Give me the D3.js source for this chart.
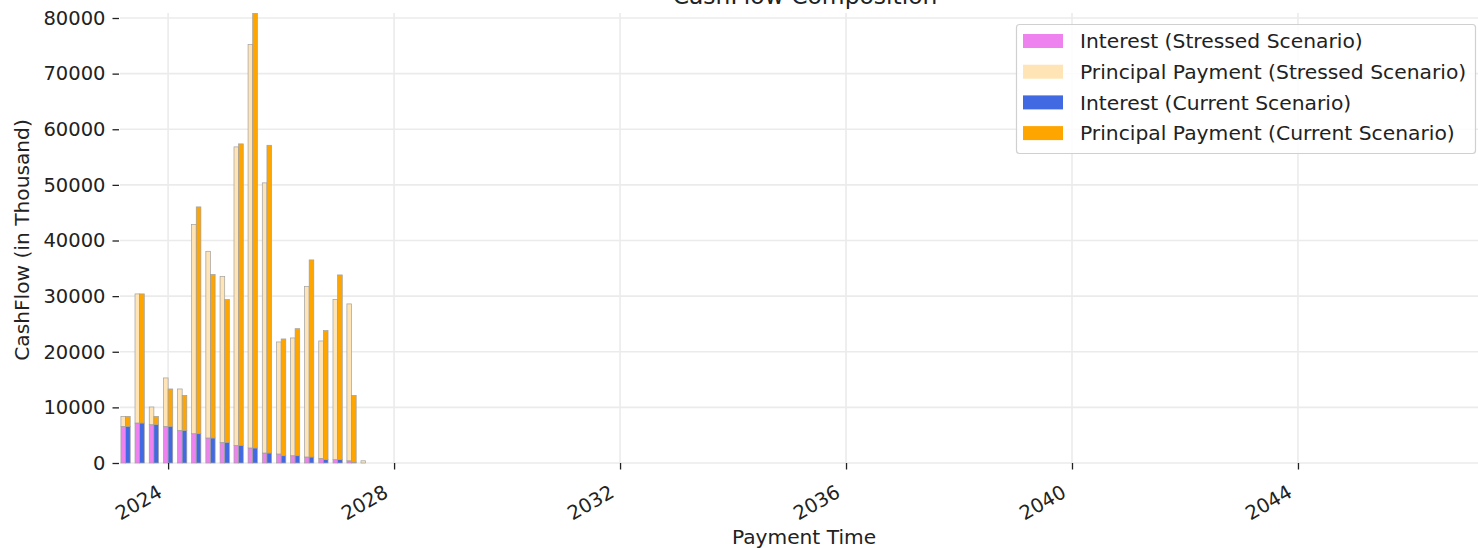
<!DOCTYPE html>
<html>
<head>
<meta charset="utf-8">
<script src="https://cdn.jsdelivr.net/npm/d3@7/dist/d3.min.js"></script>
<style>
  html, body { margin: 0; padding: 0; background: #fff; }
  svg { display: block; font-family: "DejaVu Sans", sans-serif; }
</style>
</head>
<body>
<svg id="chart" width="1478" height="548"></svg>
<script>
// ---- data (values in thousand) ----
const paymentDates = ["2023-04-01","2023-07-01","2023-10-01","2024-01-01","2024-04-01","2024-07-01",
  "2024-10-01","2025-01-01","2025-04-01","2025-07-01","2025-10-01","2026-01-01","2026-04-01",
  "2026-07-01","2026-10-01","2027-01-01","2027-04-01","2027-07-01"];
const stressedInterest  = [6580, 7190, 6890, 6580, 5860, 5270, 4500, 3710, 3170, 2700, 1800, 1620, 1310, 1080, 830, 600, 400, 0];
const stressedPrincipal = [1800, 23210, 3180, 8710, 7450, 37590, 33560, 29850, 53660, 72530, 48560, 20140, 21170, 30680, 21110, 28770, 28200, 400];
const currentInterest   = [6580, 7190, 6890, 6580, 5860, 5270, 4500, 3710, 3170, 2700, 1800, 1310, 1310, 1080, 600, 600, 150, 0];
const currentPrincipal  = [1800, 23210, 1490, 6730, 6300, 40770, 29370, 25660, 54200, 78300, 55320, 20990, 22840, 35430, 23200, 33210, 12010, 0];
const yTicks = [0, 10000, 20000, 30000, 40000, 50000, 60000, 70000, 80000];
const xTickYears = [2024, 2028, 2032, 2036, 2040, 2044];
const legendLabels = ["Interest (Stressed Scenario)", "Principal Payment (Stressed Scenario)",
  "Interest (Current Scenario)", "Principal Payment (Current Scenario)"];
const colors = { sInt: "violet", sPri: "moccasin", cInt: "royalblue", cPri: "orange" };

// ---- layout ----
const svg = d3.select("#chart");
const plotL = 120, plotR = 1478, plotT = 13, plotB = 463;
const parse = d3.timeParse("%Y-%m-%d");
const dates = paymentDates.map(parse);
const x = d3.scaleTime()
  .domain([new Date(2023, 1, 24), new Date(2047, 2, 10)])
  .range([plotL, plotR]);
const y = d3.scaleLinear().domain([0, 80900]).range([plotB, plotT]);
const halfDays = 30;
const shift = (d, days) => d3.timeDay.offset(d, days);

// clip
svg.append("defs").append("clipPath").attr("id", "plotclip")
  .append("rect").attr("x", plotL - 2).attr("y", plotT).attr("width", plotR - plotL + 2).attr("height", plotB - plotT + 1);

// grid
const grid = svg.append("g");
grid.selectAll("line.gy").data(yTicks).join("line")
  .attr("x1", plotL).attr("x2", plotR)
  .attr("y1", d => y(d)).attr("y2", d => y(d))
  .attr("stroke", "#ebebeb").attr("stroke-width", 1.6);
grid.selectAll("line.gx").data(xTickYears).join("line")
  .attr("x1", d => x(new Date(d, 0, 1))).attr("x2", d => x(new Date(d, 0, 1)))
  .attr("y1", plotT).attr("y2", plotB)
  .attr("stroke", "#ebebeb").attr("stroke-width", 1.6);

// bars
const bars = svg.append("g").attr("clip-path", "url(#plotclip)");
const idx = d3.range(dates.length);
function drawSeries(baseVals, vals, x0f, x1f, color) {
  const base = i => (baseVals ? baseVals[i] : 0);
  bars.append("g").selectAll("rect").data(idx).join("rect")
    .attr("x", i => x(x0f(dates[i])))
    .attr("width", i => x(x1f(dates[i])) - x(x0f(dates[i])))
    .attr("y", i => y(base(i) + vals[i]))
    .attr("height", i => y(base(i)) - y(base(i) + vals[i]))
    .attr("fill", color)
    .attr("stroke", i => vals[i] > 0 ? "#a0a0a0" : "none")
    .attr("stroke-width", 0.7);
}
drawSeries(null, stressedInterest, d => shift(d, -halfDays), d => d, colors.sInt);
drawSeries(stressedInterest, stressedPrincipal, d => shift(d, -halfDays), d => d, colors.sPri);
drawSeries(null, currentInterest, d => d, d => shift(d, halfDays), colors.cInt);
drawSeries(currentInterest, currentPrincipal, d => d, d => shift(d, halfDays), colors.cPri);

// y axis
const yAxis = d3.axisLeft(y).tickValues(yTicks).tickSize(6.5).tickPadding(7).tickFormat(d3.format("d"));
const gy = svg.append("g").attr("transform", `translate(${plotL - 1},0)`).call(yAxis);
gy.select(".domain").remove();
gy.selectAll(".tick line").attr("stroke", "#222").attr("stroke-width", 1.3);
gy.selectAll(".tick text").attr("font-size", "19.5px").attr("fill", "#222")
  .attr("font-family", "DejaVu Sans, sans-serif");

// x axis
const xAxis = d3.axisBottom(x).tickValues(xTickYears.map(v => new Date(v, 0, 1)))
  .tickSize(6.5).tickFormat(d3.timeFormat("%Y"));
const gx = svg.append("g").attr("transform", `translate(0,${plotB})`).call(xAxis);
gx.select(".domain").remove();
gx.selectAll(".tick line").attr("stroke", "#222").attr("stroke-width", 1.3);
gx.selectAll(".tick text")
  .attr("font-size", "19.5px").attr("fill", "#222").attr("font-family", "DejaVu Sans, sans-serif")
  .attr("text-anchor", "end").attr("dy", null).attr("y", null)
  .attr("transform", "translate(-5,33) rotate(-30)");

// axis labels & title
svg.append("text").attr("x", 804).attr("y", 544).attr("text-anchor", "middle")
  .attr("font-size", "20.2px").attr("fill", "#222").text("Payment Time");
svg.append("text").attr("transform", "translate(29,240) rotate(-90)").attr("text-anchor", "middle")
  .attr("font-size", "20.2px").attr("fill", "#222").text("CashFlow (in Thousand)");
svg.append("text").attr("x", 805).attr("y", 4).attr("text-anchor", "middle")
  .attr("font-size", "23.4px").attr("fill", "#222").text("CashFlow Composition");

// legend
const lg = svg.append("g");
lg.append("rect").attr("x", 1016.5).attr("y", 24.5).attr("width", 459).attr("height", 129)
  .attr("rx", 3).attr("fill", "#fff").attr("fill-opacity", 0.85).attr("stroke", "#d0d0d0").attr("stroke-width", 1.2);
const legendColors = [colors.sInt, colors.sPri, colors.cInt, colors.cPri];
const rows = lg.selectAll("g.row").data(legendLabels).join("g")
  .attr("transform", (d, i) => `translate(0,${41 + i * 30.7})`);
rows.append("rect").attr("x", 1023).attr("y", -7).attr("width", 40).attr("height", 14)
  .attr("fill", (d, i) => legendColors[i]);
rows.append("text").attr("x", 1080).attr("y", 0).attr("dy", "0.35em")
  .attr("font-size", "20.3px").attr("fill", "#222").text(d => d);
</script>
</body>
</html>
